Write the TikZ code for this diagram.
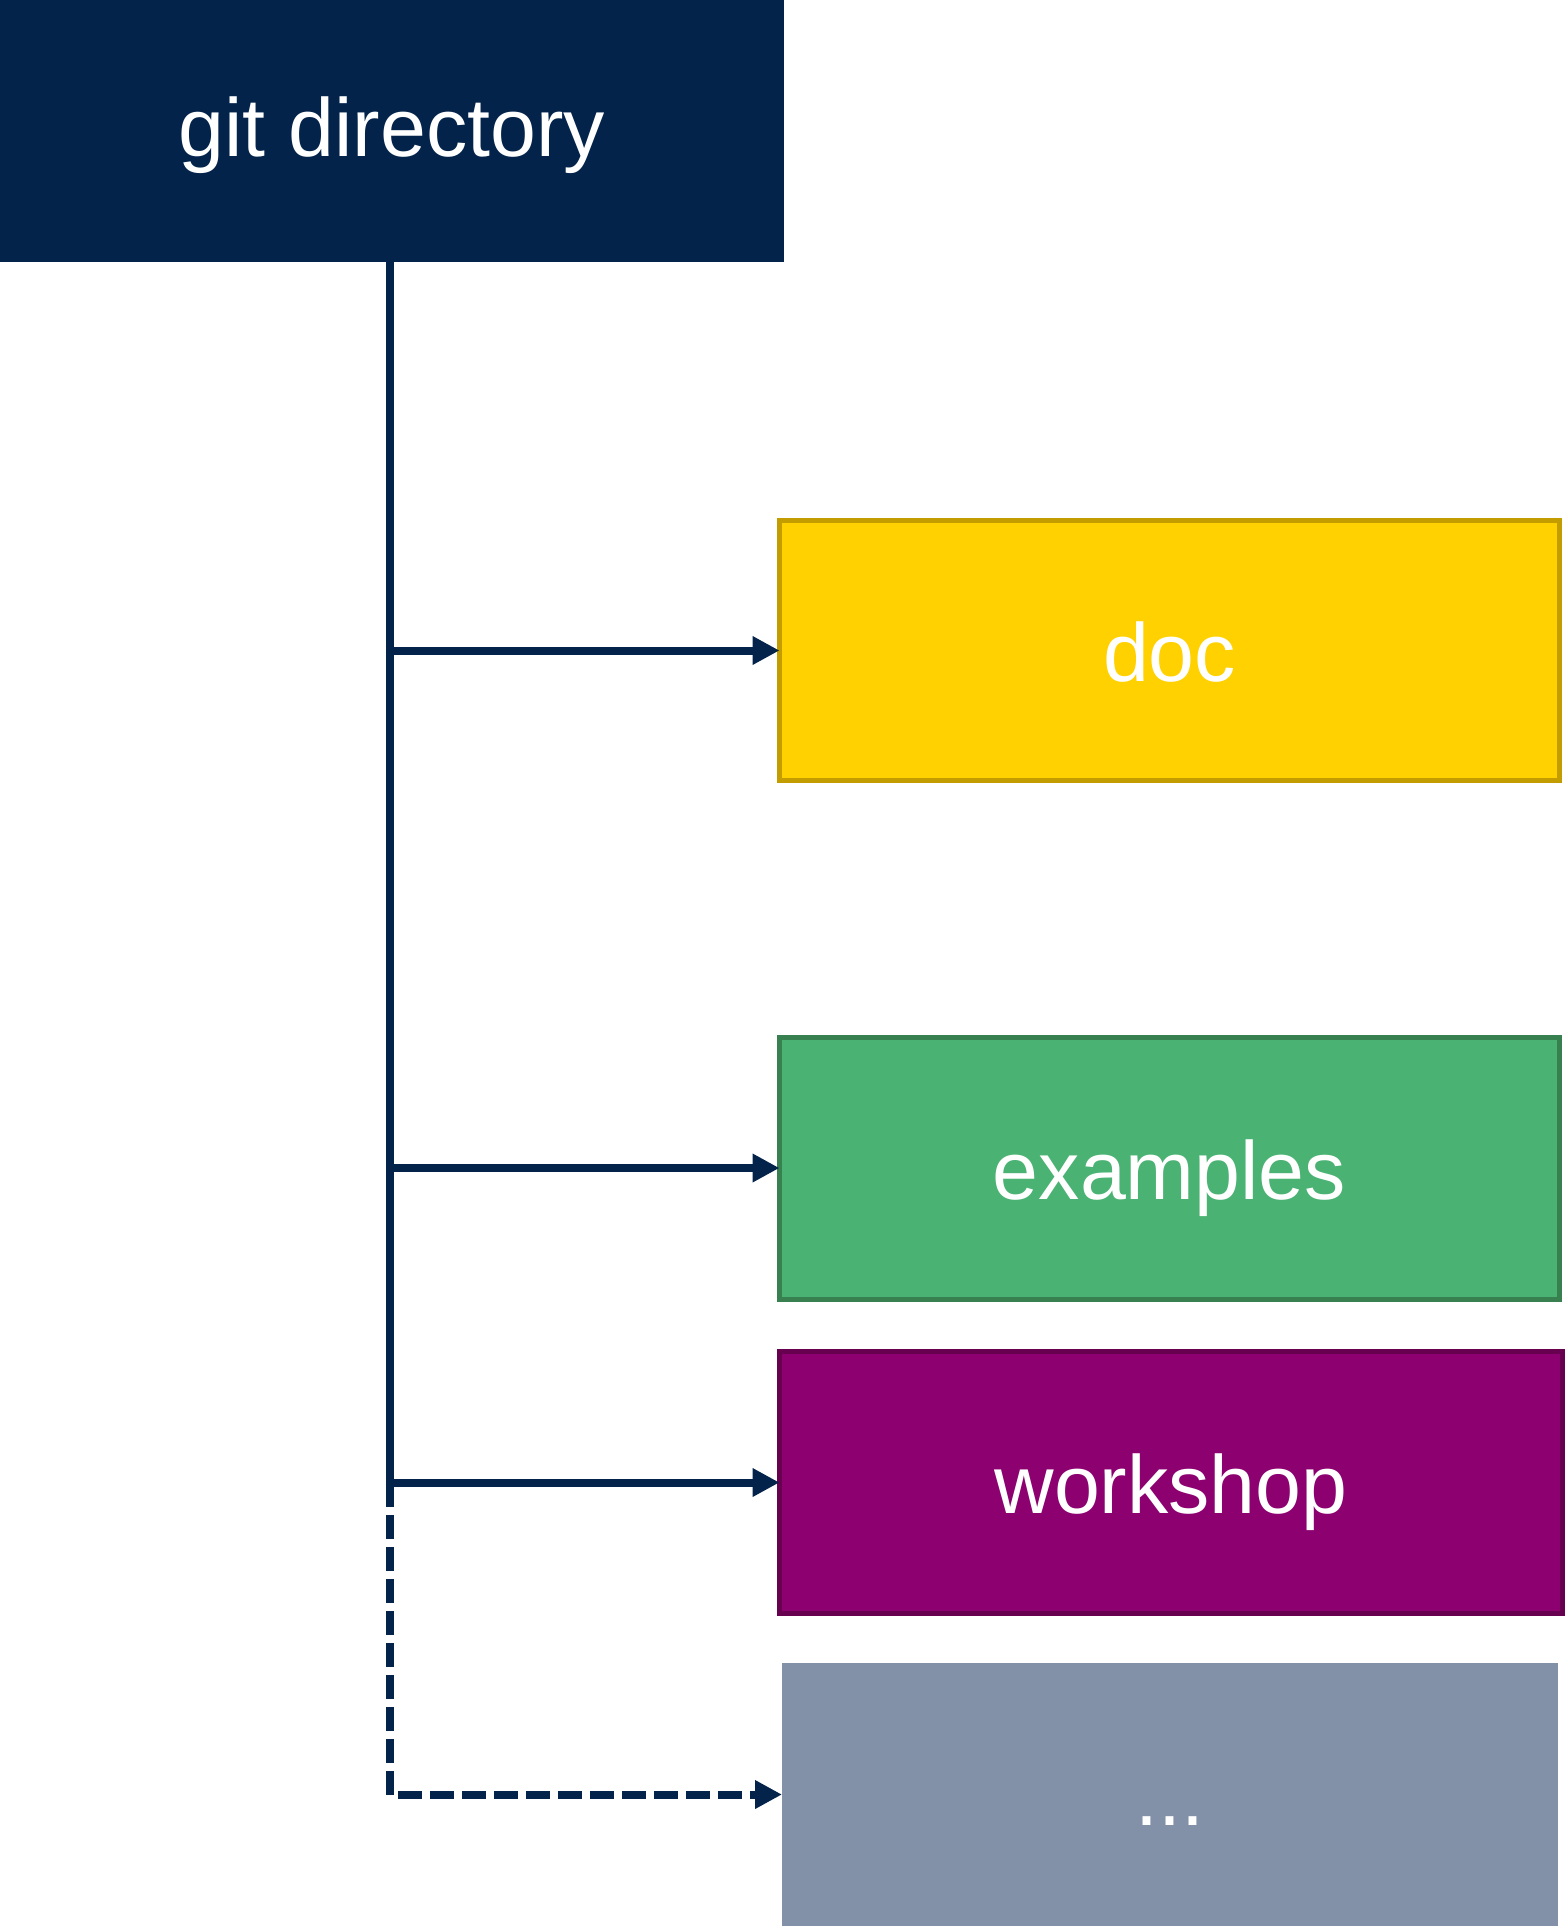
\documentclass[tikz,border=0pt]{standalone}
\usepackage{fontspec}
\setmainfont{Liberation Sans}
\usetikzlibrary{arrows.meta}
\definecolor{navy}{HTML}{03234B}
\definecolor{docfill}{HTML}{FFD100}
\definecolor{docline}{HTML}{C39D00}
\definecolor{exfill}{HTML}{4AB272}
\definecolor{exline}{HTML}{38804F}
\definecolor{wsfill}{HTML}{8C0070}
\definecolor{wsline}{HTML}{66004F}
\definecolor{morefill}{HTML}{8291A8}
\tikzset{
  dirbox/.style={rectangle, inner sep=0pt, outer sep=0pt, text=white,
    font=\fontsize{82.5}{99}\selectfont, text height=74pt, text depth=12pt},
  conn/.style={draw=navy, line width=8pt, -{Triangle[length=27pt,width=27pt]}},
  trunk/.style={draw=navy, line width=8pt},
  dconn/.style={conn, dash pattern=on 24pt off 8pt}
}
\begin{document}
\begin{tikzpicture}[x=1pt,y=-1pt]
\useasboundingbox (0,0) rectangle (1565,1926);
\node[dirbox, fill=navy, minimum width=784pt, minimum height=262pt,
  text height=64pt, text depth=12pt]
  (git) at (392,131) {git directory};
\node[dirbox, fill=docfill, draw=docline, line width=5pt, minimum width=780pt, minimum height=260pt]
  (doc) at (1169.5,650.5) {doc};
\node[dirbox, fill=exfill, draw=exline, line width=5pt, minimum width=780pt, minimum height=262pt]
  (examples) at (1169.5,1168) {examples};
\node[dirbox, fill=wsfill, draw=wsline, line width=5pt, minimum width=783pt, minimum height=262pt]
  (workshop) at (1171,1482.5) {workshop};
\node[dirbox, fill=morefill, minimum width=776pt, minimum height=263pt]
  (more) at (1170,1794.5) {...};
\coordinate (j1) at (390,650.5);
\coordinate (j2) at (390,1168);
\coordinate (j3) at (390,1482.5);
\draw[trunk] (git.south -| j1) -- (j3);
\draw[conn] (j1) -- (doc.west);
\draw[conn] (j2) -- (examples.west);
\draw[conn] (j3) -- (workshop.west);
\draw[dconn] (j3) |- (more.west);
\end{tikzpicture}
\end{document}
